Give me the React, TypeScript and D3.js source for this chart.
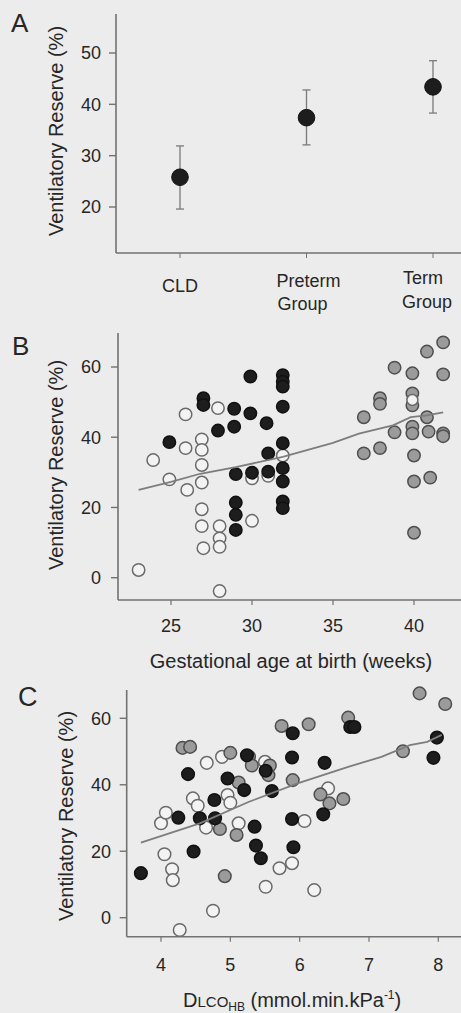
import React from "react";
import * as d3 from "d3";

// ---------- Panel A data ----------
const groupsA = ["CLD", "Preterm|Group", "Term|Group"];
const meansA = [25.8, 37.4, 43.4];
const lowA = [19.6, 32.1, 38.3];
const highA = [31.9, 42.8, 48.5];
const ticksA = [20, 30, 40, 50];

// ---------- Panel B data (gestational age, ventilatory reserve) ----------
const bOpen: [number, number][] = [
  [23.0, 2.2], [23.9, 33.5], [24.9, 28.0], [25.9, 36.9], [25.9, 46.5], [26.0, 25.0],
  [26.9, 39.4], [26.9, 36.4], [26.9, 32.1], [26.9, 27.1], [26.9, 19.5], [26.9, 14.7], [27.0, 8.4],
  [27.9, 48.3], [28.0, 14.7], [28.0, 11.2], [28.0, 8.8], [28.0, -3.8],
  [30.0, 16.2], [30.0, 28.3], [31.0, 29.0], [31.9, 34.8],
];
const bBlack: [number, number][] = [
  [24.9, 38.6], [27.0, 51.1], [27.0, 49.2], [27.9, 41.9], [28.9, 48.1], [28.9, 43.0],
  [29.0, 29.5], [29.0, 21.4], [29.0, 17.9], [29.0, 13.6], [29.9, 57.3], [29.9, 46.8],
  [30.0, 29.9], [30.9, 44.0], [31.0, 35.4], [31.0, 30.2], [31.9, 57.7], [31.9, 55.8],
  [31.9, 54.4], [31.9, 48.7], [31.9, 38.3], [31.9, 31.2], [31.9, 27.4], [31.9, 21.7], [31.9, 19.8],
];
const bGray: [number, number][] = [
  [36.9, 45.7], [36.9, 35.4], [37.9, 51.1], [37.9, 49.5], [37.9, 36.9], [38.8, 59.8], [38.8, 41.4],
  [39.9, 58.2], [39.9, 52.5], [39.9, 49.1], [39.9, 43.0], [39.9, 41.1], [40.0, 34.8], [40.0, 27.4],
  [40.0, 12.8], [40.8, 64.4], [40.8, 45.7], [40.9, 41.6], [41.0, 28.5], [41.8, 67.0], [41.8, 57.9],
  [41.8, 41.1], [41.8, 40.3],
];
const bOpenOver: [number, number][] = [[39.9, 50.6]];
const bFit: [number, number][] = [
  [23.0, 25.0], [25.0, 27.3], [26.8, 29.6], [29.0, 31.5], [31.9, 34.4], [33.5, 36.5],
  [35.0, 38.4], [36.6, 41.0], [38.7, 43.4], [39.8, 45.7], [40.8, 46.2], [41.8, 47.1],
];
const ticksBx = [25, 30, 35, 40];
const ticksBy = [0, 20, 40, 60];

// ---------- Panel C data (DLco, ventilatory reserve) ----------
const cOpen: [number, number][] = [
  [4.0, 28.4], [4.07, 31.6], [4.05, 19.1], [4.16, 14.6], [4.17, 11.3], [4.27, -3.7],
  [4.46, 35.9], [4.53, 33.7], [4.65, 27.1], [4.66, 46.6], [4.75, 2.1], [4.88, 48.4],
  [4.96, 36.9], [5.0, 34.6], [5.12, 28.4], [5.5, 46.9], [5.51, 9.3], [5.71, 14.9],
  [5.89, 16.4], [6.07, 29.1], [6.21, 8.3], [6.41, 38.9],
];
const cGray: [number, number][] = [
  [4.31, 51.1], [4.42, 51.4], [4.92, 12.5], [4.85, 26.7], [5.0, 49.6], [5.09, 24.9],
  [5.12, 40.7], [5.27, 48.4], [5.31, 45.8], [5.57, 45.8], [5.55, 42.9], [5.74, 57.7],
  [5.9, 41.4], [6.13, 58.2], [6.3, 37.1], [6.43, 34.4], [6.63, 35.7], [6.7, 60.2],
  [7.49, 50.1], [7.73, 67.5], [8.1, 64.3],
];
const cBlack: [number, number][] = [
  [3.71, 13.4], [4.25, 30.1], [4.39, 43.2], [4.47, 19.9], [4.56, 29.9], [4.77, 35.4],
  [4.78, 29.9], [4.96, 41.9], [5.24, 48.9], [5.2, 38.4], [5.35, 27.4], [5.37, 21.7],
  [5.44, 17.9], [5.51, 44.2], [5.6, 38.1], [5.9, 55.5], [5.89, 48.2], [5.89, 29.7],
  [5.91, 21.2], [6.36, 46.6], [6.34, 31.1], [6.73, 57.4], [6.79, 57.4], [7.98, 54.2], [7.93, 48.1],
];
const cFit: [number, number][] = [
  [3.71, 22.6], [4.56, 28.4], [5.27, 34.9], [5.97, 40.4], [6.7, 45.4], [7.18, 48.4],
  [7.59, 51.9], [7.84, 52.9], [8.05, 55.0],
];
const ticksCx = [4, 5, 6, 7, 8];
const ticksCy = [0, 20, 40, 60];

const FONT = "'Liberation Sans', Arial, sans-serif";
const AXIS = "#727272";
const TEXT = "#262626";

type Style = { fill: string; stroke: string };
const OPEN: Style = { fill: "#f3f3f3", stroke: "#6a6a6a" };
const BLACK: Style = { fill: "#1d1d1d", stroke: "#111" };
const GRAY: Style = { fill: "#9b9b9b", stroke: "#4e4e4e" };

function Dots({ data, x, y, s, r }: { data: [number, number][]; x: any; y: any; s: Style; r: number }) {
  return (
    <g>
      {data.map((d, i) => (
        <circle key={i} cx={x(d[0])} cy={y(d[1])} r={r} fill={s.fill} stroke={s.stroke} strokeWidth={1.5} />
      ))}
    </g>
  );
}

function YAxis({ y, ticks, x0, top, bottom, labelEnd }: any) {
  return (
    <g>
      <line x1={x0} x2={x0} y1={top} y2={bottom} stroke={AXIS} strokeWidth={1.6} />
      {ticks.map((t: number) => (
        <g key={t}>
          <line x1={x0 - 7} x2={x0} y1={y(t)} y2={y(t)} stroke={AXIS} strokeWidth={1.4} />
          <text x={labelEnd} y={y(t)} dy="0.36em" textAnchor="end" fontSize={18} fill={TEXT}>
            {t}
          </text>
        </g>
      ))}
    </g>
  );
}

// label placement for the two-line category names in panel A
const labelDx = [[0, 0], [2, -4], [-10, -6]];
const labelY = [[292, 0], [287, 310], [284, 308]];

export default function App() {
  // Panel A
  const axA = 116, baseA = 253, topA = 14;
  const yA = d3.scaleLinear().domain([20, 50]).range([207, 53]);
  const xA = d3.scalePoint<string>().domain(groupsA).range([180, 433]);

  // Panel B
  const axB = 118, baseB = 600, topB = 333;
  const xB = d3.scaleLinear().domain([25, 40]).range([171, 414]);
  const yB = d3.scaleLinear().domain([0, 60]).range([577.7, 367]);

  // Panel C
  const axC = 126.7, baseC = 936.7, topC = 690;
  const xC = d3.scaleLinear().domain([4, 8]).range([161, 438.3]);
  const yC = d3.scaleLinear().domain([0, 60]).range([917.7, 718.3]);

  const lineB = d3.line<[number, number]>().x((d) => xB(d[0])).y((d) => yB(d[1]));
  const lineC = d3.line<[number, number]>().x((d) => xC(d[0])).y((d) => yC(d[1]));

  return (
    <svg
      width={461}
      height={1013}
      style={{ position: "absolute", left: 0, top: 0, fontFamily: FONT }}
    >
      <rect width={461} height={1013} fill="#ececec" />

      {/* ---------------- Panel A ---------------- */}
      <text x={11} y={32} fontSize={26} fill={TEXT}>A</text>
      <text transform={`translate(63,131) rotate(-90)`} textAnchor="middle" fontSize={20} fill={TEXT}>
        Ventilatory Reserve (%)
      </text>
      <YAxis y={yA} ticks={ticksA} x0={axA} top={topA} bottom={baseA} labelEnd={101} />
      <line x1={axA} x2={461} y1={baseA} y2={baseA} stroke={AXIS} strokeWidth={1.6} />
      {groupsA.map((g, i) => {
        const cx = xA(g)!;
        const parts = g.split("|");
        return (
          <g key={g}>
            <line x1={cx} x2={cx} y1={baseA} y2={baseA + 5} stroke={AXIS} strokeWidth={1} />
            <line x1={cx} x2={cx} y1={yA(lowA[i])} y2={yA(highA[i])} stroke="#7a7a7a" strokeWidth={1.3} />
            <line x1={cx - 4} x2={cx + 4} y1={yA(lowA[i])} y2={yA(lowA[i])} stroke="#7a7a7a" strokeWidth={1.3} />
            <line x1={cx - 4} x2={cx + 4} y1={yA(highA[i])} y2={yA(highA[i])} stroke="#7a7a7a" strokeWidth={1.3} />
            <circle cx={cx} cy={yA(meansA[i])} r={8.3} fill="#1d1d1d" stroke="#111" strokeWidth={1} />
            {parts.map((p, j) => (
              <text key={j} x={cx + labelDx[i][j]} y={labelY[i][j]} textAnchor="middle" fontSize={18} fill={TEXT}>
                {p}
              </text>
            ))}
          </g>
        );
      })}

      {/* ---------------- Panel B ---------------- */}
      <text x={12} y={355} fontSize={26} fill={TEXT}>B</text>
      <text transform={`translate(63,465) rotate(-90)`} textAnchor="middle" fontSize={20} fill={TEXT}>
        Ventilatory Reserve (%)
      </text>
      <YAxis y={yB} ticks={ticksBy} x0={axB} top={topB} bottom={baseB} labelEnd={101} />
      <line x1={axB} x2={461} y1={baseB} y2={baseB} stroke={AXIS} strokeWidth={1.6} />
      {ticksBx.map((t) => (
        <g key={t}>
          <line x1={xB(t)} x2={xB(t)} y1={baseB} y2={baseB + 5} stroke={AXIS} strokeWidth={1.2} />
          <text x={xB(t)} y={632} textAnchor="middle" fontSize={18} fill={TEXT}>{t}</text>
        </g>
      ))}
      <text x={291} y={668} textAnchor="middle" fontSize={20} fill={TEXT}>
        Gestational age at birth (weeks)
      </text>
      <Dots data={bOpen} x={xB} y={yB} s={OPEN} r={6.2} />
      <Dots data={bBlack} x={xB} y={yB} s={BLACK} r={6.2} />
      <Dots data={bGray} x={xB} y={yB} s={GRAY} r={6.2} />
      <Dots data={bOpenOver} x={xB} y={yB} s={OPEN} r={5.5} />
      <path d={lineB(bFit)!} fill="none" stroke="#7d7d7d" strokeWidth={1.8} />

      {/* ---------------- Panel C ---------------- */}
      <text x={18} y={706} fontSize={27} fill={TEXT}>C</text>
      <text transform={`translate(73,816) rotate(-90)`} textAnchor="middle" fontSize={20} fill={TEXT}>
        Ventilatory Reserve (%)
      </text>
      <YAxis y={yC} ticks={ticksCy} x0={axC} top={topC} bottom={baseC} labelEnd={111} />
      <line x1={axC} x2={461} y1={baseC} y2={baseC} stroke={AXIS} strokeWidth={1.6} />
      {ticksCx.map((t) => (
        <g key={t}>
          <line x1={xC(t)} x2={xC(t)} y1={baseC} y2={baseC + 5} stroke={AXIS} strokeWidth={1.2} />
          <text x={xC(t)} y={971} textAnchor="middle" fontSize={18} fill={TEXT}>{t}</text>
        </g>
      ))}
      <text x={183} y={1007} fontSize={20} fill={TEXT}>
        <tspan>D</tspan>
        <tspan fontSize={15}>LCO</tspan>
        <tspan fontSize={12} dy={4}>HB</tspan>
        <tspan dy={-4}> (mmol.min.kPa</tspan>
        <tspan fontSize={12} dy={-8}>-1</tspan>
        <tspan dy={8}>)</tspan>
      </text>
      <Dots data={cOpen} x={xC} y={yC} s={OPEN} r={6.3} />
      <Dots data={cGray} x={xC} y={yC} s={GRAY} r={6.3} />
      <Dots data={cBlack} x={xC} y={yC} s={BLACK} r={6.3} />
      <path d={lineC(cFit)!} fill="none" stroke="#7d7d7d" strokeWidth={1.8} />
    </svg>
  );
}
